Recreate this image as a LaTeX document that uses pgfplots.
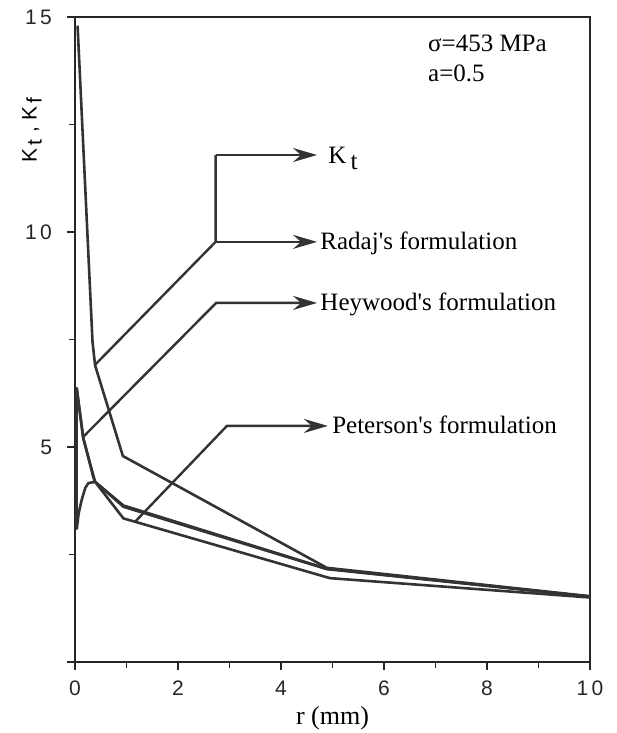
\documentclass[border=0pt]{standalone}
\usepackage{pgfplots}
\pgfplotsset{compat=1.18}
\usepackage{fontspec}
\setmainfont{Liberation Serif}
\setsansfont{Liberation Sans}
\usetikzlibrary{arrows.meta}

\pgfplotstableread{
x y
0.05 14.8
0.34 7.45
0.39 6.9
0.93 4.79
4.89 2.19
10 1.53
}\Kt

\pgfplotstableread{
x y
0.033 6.37
0.16 5.21
0.39 4.19
0.94 3.64
4.89 2.17
10 1.52
}\Radaj

\pgfplotstableread{
x y
0.030 3.12
0.033 6.37
0.16 5.21
0.355 4.30
0.39 4.19
0.94 3.61
4.89 2.16
10 1.52
}\Heywood

\pgfplotstableread{
x y
0.022 3.45
0.035 3.10
0.07 3.45
0.13 3.77
0.20 4.05
0.26 4.16
0.39 4.19
0.94 3.34
4.95 1.95
10 1.50
}\Peterson

\begin{document}
\begin{tikzpicture}
\path[use as bounding box] (-37.5pt,-35.5pt) rectangle (270.5pt,331pt);
\begin{axis}[
  scale only axis, width=257.5pt, height=322.5pt,
  xmin=0, xmax=10, ymin=0, ymax=15,
  axis line style={line width=1.1pt, color=black!85},
  xtick={0,2,4,6,8,10}, xticklabels={0,2,4,6,8,1\,0},
  minor xtick={1,3,5,7,9},
  ytick={0,5,10,15}, yticklabels={,5,1\,0,1\,5},
  minor ytick={2.5,7.5,12.5},
  tick align=outside, xtick pos=bottom, ytick pos=left,
  major tick length=4pt, minor tick length=3pt,
  tick style={line width=0.9pt, black!85},
  ticklabel style={font=\sffamily\fontsize{10.5}{12}\selectfont, black!85},
  xticklabel style={yshift=-2pt},
  yticklabel style={xshift=-4pt},
  xlabel={r (mm)},
  xlabel style={font=\fontsize{13}{15}\selectfont, at={(axis description cs:0.5,-0.0868)}, anchor=center},
  ylabel={K\,\raisebox{-0.45ex}{t}\,\,, K\,\raisebox{-0.45ex}{f}},
  ylabel style={at={(axis description cs:-0.0835,0.825)}, anchor=center, font=\sffamily\fontsize{10.5}{12}\selectfont},
  clip=false,
  cycle list={{black!80}},
  every axis plot/.append style={line width=1.3pt, no markers, line join=round},
]
\addplot[line width=1.3pt, black!80] table {\Kt};
\addplot[line width=1.3pt, black!80] table {\Radaj};
\addplot[line width=1.3pt, black!80] table {\Heywood};
\addplot[line width=1.3pt, black!80] table {\Peterson};

\begin{scope}[line width=1.2pt, black!80, >={Stealth[length=12pt,width=7pt,inset=4pt]}]
\draw (axis cs:0.388,6.91) -- (axis cs:2.73,9.77) -- (axis cs:2.73,11.79);
\draw[->] (axis cs:2.73,11.79) -- (axis cs:4.70,11.79);
\draw[->] (axis cs:2.73,9.77) -- (axis cs:4.70,9.77);
\draw[->] (axis cs:0.155,5.23) -- (axis cs:2.74,8.35) -- (axis cs:4.70,8.35);
\draw[->] (axis cs:1.165,3.26) -- (axis cs:2.95,5.49) -- (axis cs:4.91,5.49);
\end{scope}

\begin{scope}[font=\fontsize{12.5}{15}\selectfont]
\node[anchor=base west, inner sep=0pt, xshift=5.5pt, yshift=-4pt] at (axis cs:4.70,11.79) {K\,\raisebox{-0.6ex}{t}};
\node[anchor=base west, inner sep=0pt, xshift=1.5pt, yshift=-4pt] at (axis cs:4.70,9.77) {Radaj\textquotesingle s formulation};
\node[anchor=base west, inner sep=0pt, xshift=1.5pt, yshift=-4pt] at (axis cs:4.70,8.35) {Heywood\textquotesingle s formulation};
\node[anchor=base west, inner sep=0pt, xshift=2pt, yshift=-4pt] at (axis cs:4.91,5.49) {Peterson\textquotesingle s formulation};
\node[anchor=base west, inner sep=0pt] at (axis cs:6.85,14.2) {σ=453 MPa};
\node[anchor=base west, inner sep=0pt] at (axis cs:6.85,13.5) {a=0.5};
\end{scope}
\end{axis}
\end{tikzpicture}
\end{document}
